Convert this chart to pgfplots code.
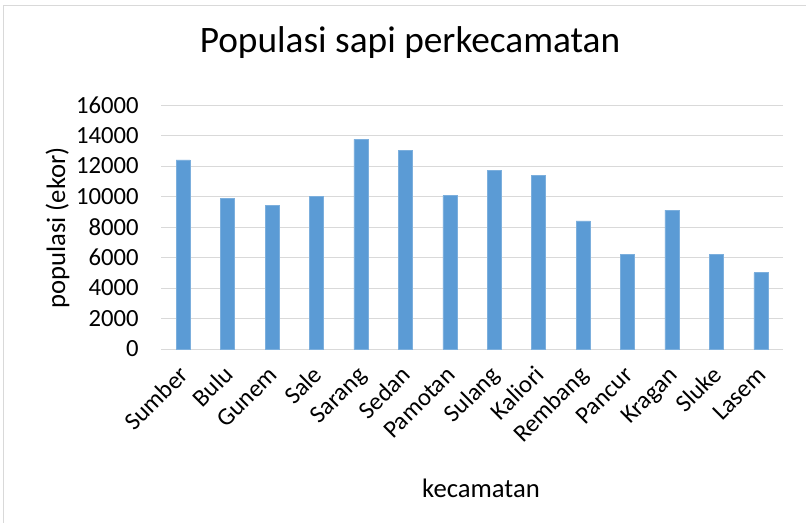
\documentclass[border=0pt]{standalone}
\usepackage{pgfplots}
\pgfplotsset{compat=1.18}
\usepackage{fontspec}
\setmainfont{Carlito}
\definecolor{barblue}{HTML}{5B9BD5}
\definecolor{gridgray}{HTML}{D9D9D9}
\begin{document}
\begin{tikzpicture}[x=1pt,y=1pt]
\useasboundingbox (0,0) rectangle (604.5,391.5);
\draw[gridgray, line width=0.75pt] (2.6,-5) -- (2.6,387) -- (610,387);
\begin{axis}[
  at={(120.75pt,129.75pt)}, anchor=south west,
  scale only axis, width=466.5pt, height=183pt,
  xmin=-0.5, xmax=13.5, ymin=0, ymax=16000,
  ytick={0,2000,...,16000},
  xtick={0,...,13},
  xticklabels={Sumber,Bulu,Gunem,Sale,Sarang,Sedan,Pamotan,Sulang,Kaliori,Rembang,Pancur,Kragan,Sluke,Lasem},
  /pgf/number format/assume math mode=true,
  scaled y ticks=false,
  yticklabel={\pgfmathprintnumber[fixed,1000 sep={}]{\tick}},
  axis line style={draw=none},
  major tick length=0pt,
  ymajorgrids, grid style={gridgray, line width=0.75pt},
  ticklabel style={font=\fontsize{18.5}{22}\selectfont},
  yticklabel style={anchor=east, inner sep=0pt, xshift=-16.5pt},
  xticklabel style={inner sep=0pt, xshift=0pt, yshift=-15.5pt, rotate=45, anchor=north east, text height=0.7em},
  title={Populasi sapi perkecamatan},
  title style={font=\fontsize{28}{32}\selectfont, at={(axis description cs:0.4003,1.1844)}, anchor=base},
  xlabel={kecamatan},
  xlabel style={font=\fontsize{20}{24}\selectfont, at={(axis description cs:0.5145,-0.6066)}, anchor=base},
  clip=false,
]
\addplot[ybar, bar width=10.5pt, fill=barblue, draw=barblue!80!white, line width=0.4pt]
coordinates {(0,12400) (1,9900) (2,9400) (3,10000) (4,13750) (5,13000) (6,10050) (7,11700) (8,11400) (9,8400) (10,6200) (11,9100) (12,6200) (13,5000)};
\end{axis}
\node[rotate=90, anchor=base, inner sep=0pt, font=\fontsize{20}{24}\selectfont] at (48.75,220.5) {populasi (ekor)};
\end{tikzpicture}
\end{document}
